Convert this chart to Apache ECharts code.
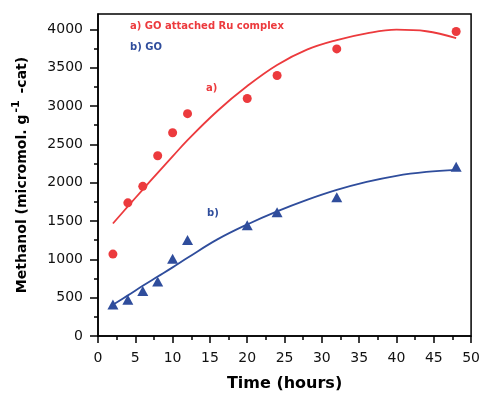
<!DOCTYPE html>
<html>
<head>
<meta charset="utf-8">
<script src="https://cdn.jsdelivr.net/npm/echarts@6/dist/echarts.min.js"></script>
<style>
  html, body { margin: 0; padding: 0; background: #fff; }
  #chart { width: 483px; height: 397px; }
</style>
</head>
<body>
<div id="chart"></div>
<script>
// Measured methanol yields (hours, micromol per g of catalyst)
var hours = [2, 4, 6, 8, 10, 12, 20, 24, 32, 48];
var ruComplex = [1068, 1737, 1952, 2351, 2651, 2900, 3098, 3398, 3745, 3972];
var goOnly = [410, 472, 588, 712, 1008, 1252, 1446, 1613, 1810, 2207];

// Fitted trend curves, sampled along the time axis
var fitHours = [2, 4, 6, 8, 10, 12, 16, 20, 24, 28, 32, 36, 40, 44, 48];
var ruFit = [1467, 1690, 1910, 2128, 2342, 2555, 2935, 3260, 3535, 3735, 3860, 3948, 3995, 3975, 3885];
var goFit = [408, 530, 655, 775, 895, 1020, 1260, 1455, 1625, 1775, 1905, 2010, 2090, 2140, 2168];

// Axis ticks
var xTicks = [0, 5, 10, 15, 20, 25, 30, 35, 40, 45, 50];
var yTicks = [0, 500, 1000, 1500, 2000, 2500, 3000, 3500, 4000];
var yMinorTicks = [250, 750, 1250, 1750, 2250, 2750, 3250, 3750];

var RED = '#ec3a3d';
var BLUE = '#2f4d9c';

function pairs(xs, ys) {
  return xs.map(function (x, i) { return [x, ys[i]]; });
}

var chart = echarts.init(document.getElementById('chart'), null, { renderer: 'canvas' });

var tickFont = { fontFamily: 'DejaVu Sans', fontSize: 14, color: '#111' };
var plain = function (v) { return String(v); };
var noteFont = 'bold 10px "DejaVu Sans"';

chart.setOption({
  animation: false,
  backgroundColor: '#fff',
  grid: {
    left: 98, right: 10, top: 14, bottom: 57,
    show: true, borderColor: '#000', borderWidth: 1.5, backgroundColor: 'transparent'
  },
  xAxis: {
    type: 'value',
    min: xTicks[0], max: xTicks[xTicks.length - 1], interval: 5,
    name: 'Time (hours)',
    nameLocation: 'middle',
    nameGap: 40,
    nameTextStyle: { fontFamily: 'DejaVu Sans', fontWeight: 'bold', fontSize: 16, color: '#000' },
    axisLine: { show: true, lineStyle: { color: '#000', width: 1.5 } },
    axisTick: { show: true, inside: false, length: 7, lineStyle: { color: '#000', width: 1.5 } },
    minorTick: { show: true, splitNumber: 2, length: 4, lineStyle: { color: '#000', width: 1.5 } },
    axisLabel: Object.assign({ margin: 15, formatter: plain }, tickFont),
    splitLine: { show: false }
  },
  yAxis: [{
    type: 'value',
    min: 0, max: 4200,
    name: '{t|Methanol (micromol. g}{s|-1}{t| -cat)}',
    nameLocation: 'middle',
    nameGap: 66,
    nameTextStyle: {
      rich: {
        t: { fontFamily: 'DejaVu Sans', fontWeight: 'bold', fontSize: 14, color: '#000', lineHeight: 20 },
        s: { fontFamily: 'DejaVu Sans', fontWeight: 'bold', fontSize: 11, color: '#000', lineHeight: 20, padding: [0, 2, 12, 2] }
      }
    },
    axisLine: { show: true, onZero: false, lineStyle: { color: '#000', width: 1.5 } },
    axisTick: { show: true, length: 8, customValues: yTicks, lineStyle: { color: '#000', width: 1.5 } },
    axisLabel: Object.assign({ margin: 15, customValues: yTicks, formatter: plain }, tickFont),
    splitLine: { show: false }
  }, {
    type: 'value',
    position: 'left',
    min: 0, max: 4200,
    axisLine: { show: false },
    axisTick: { show: true, length: 4, customValues: yMinorTicks, lineStyle: { color: '#000', width: 1.5 } },
    axisLabel: { show: false },
    splitLine: { show: false }
  }],
  graphic: [
    { type: 'text', left: 130, top: 21, style: { text: 'a) GO attached Ru complex', fill: RED, font: noteFont } },
    { type: 'text', left: 130, top: 42, style: { text: 'b) GO', fill: BLUE, font: noteFont } },
    { type: 'text', left: 206, top: 83, style: { text: 'a)', fill: RED, font: noteFont } },
    { type: 'text', left: 207, top: 208, style: { text: 'b)', fill: BLUE, font: noteFont } }
  ],
  series: [
    {
      name: 'GO attached Ru complex fit', type: 'line', data: pairs(fitHours, ruFit),
      smooth: 0.4, showSymbol: false, lineStyle: { color: RED, width: 1.8 }, z: 2
    },
    {
      name: 'GO fit', type: 'line', data: pairs(fitHours, goFit),
      smooth: 0.4, showSymbol: false, lineStyle: { color: BLUE, width: 1.8 }, z: 2
    },
    {
      name: 'GO attached Ru complex', type: 'scatter', data: pairs(hours, ruComplex),
      symbol: 'circle', symbolSize: 9, itemStyle: { color: RED, opacity: 1 }, z: 3
    },
    {
      name: 'GO', type: 'scatter', data: pairs(hours, goOnly),
      symbol: 'triangle', symbolSize: [11, 10], itemStyle: { color: BLUE, opacity: 1 }, z: 3
    }
  ]
});
</script>
</body>
</html>
